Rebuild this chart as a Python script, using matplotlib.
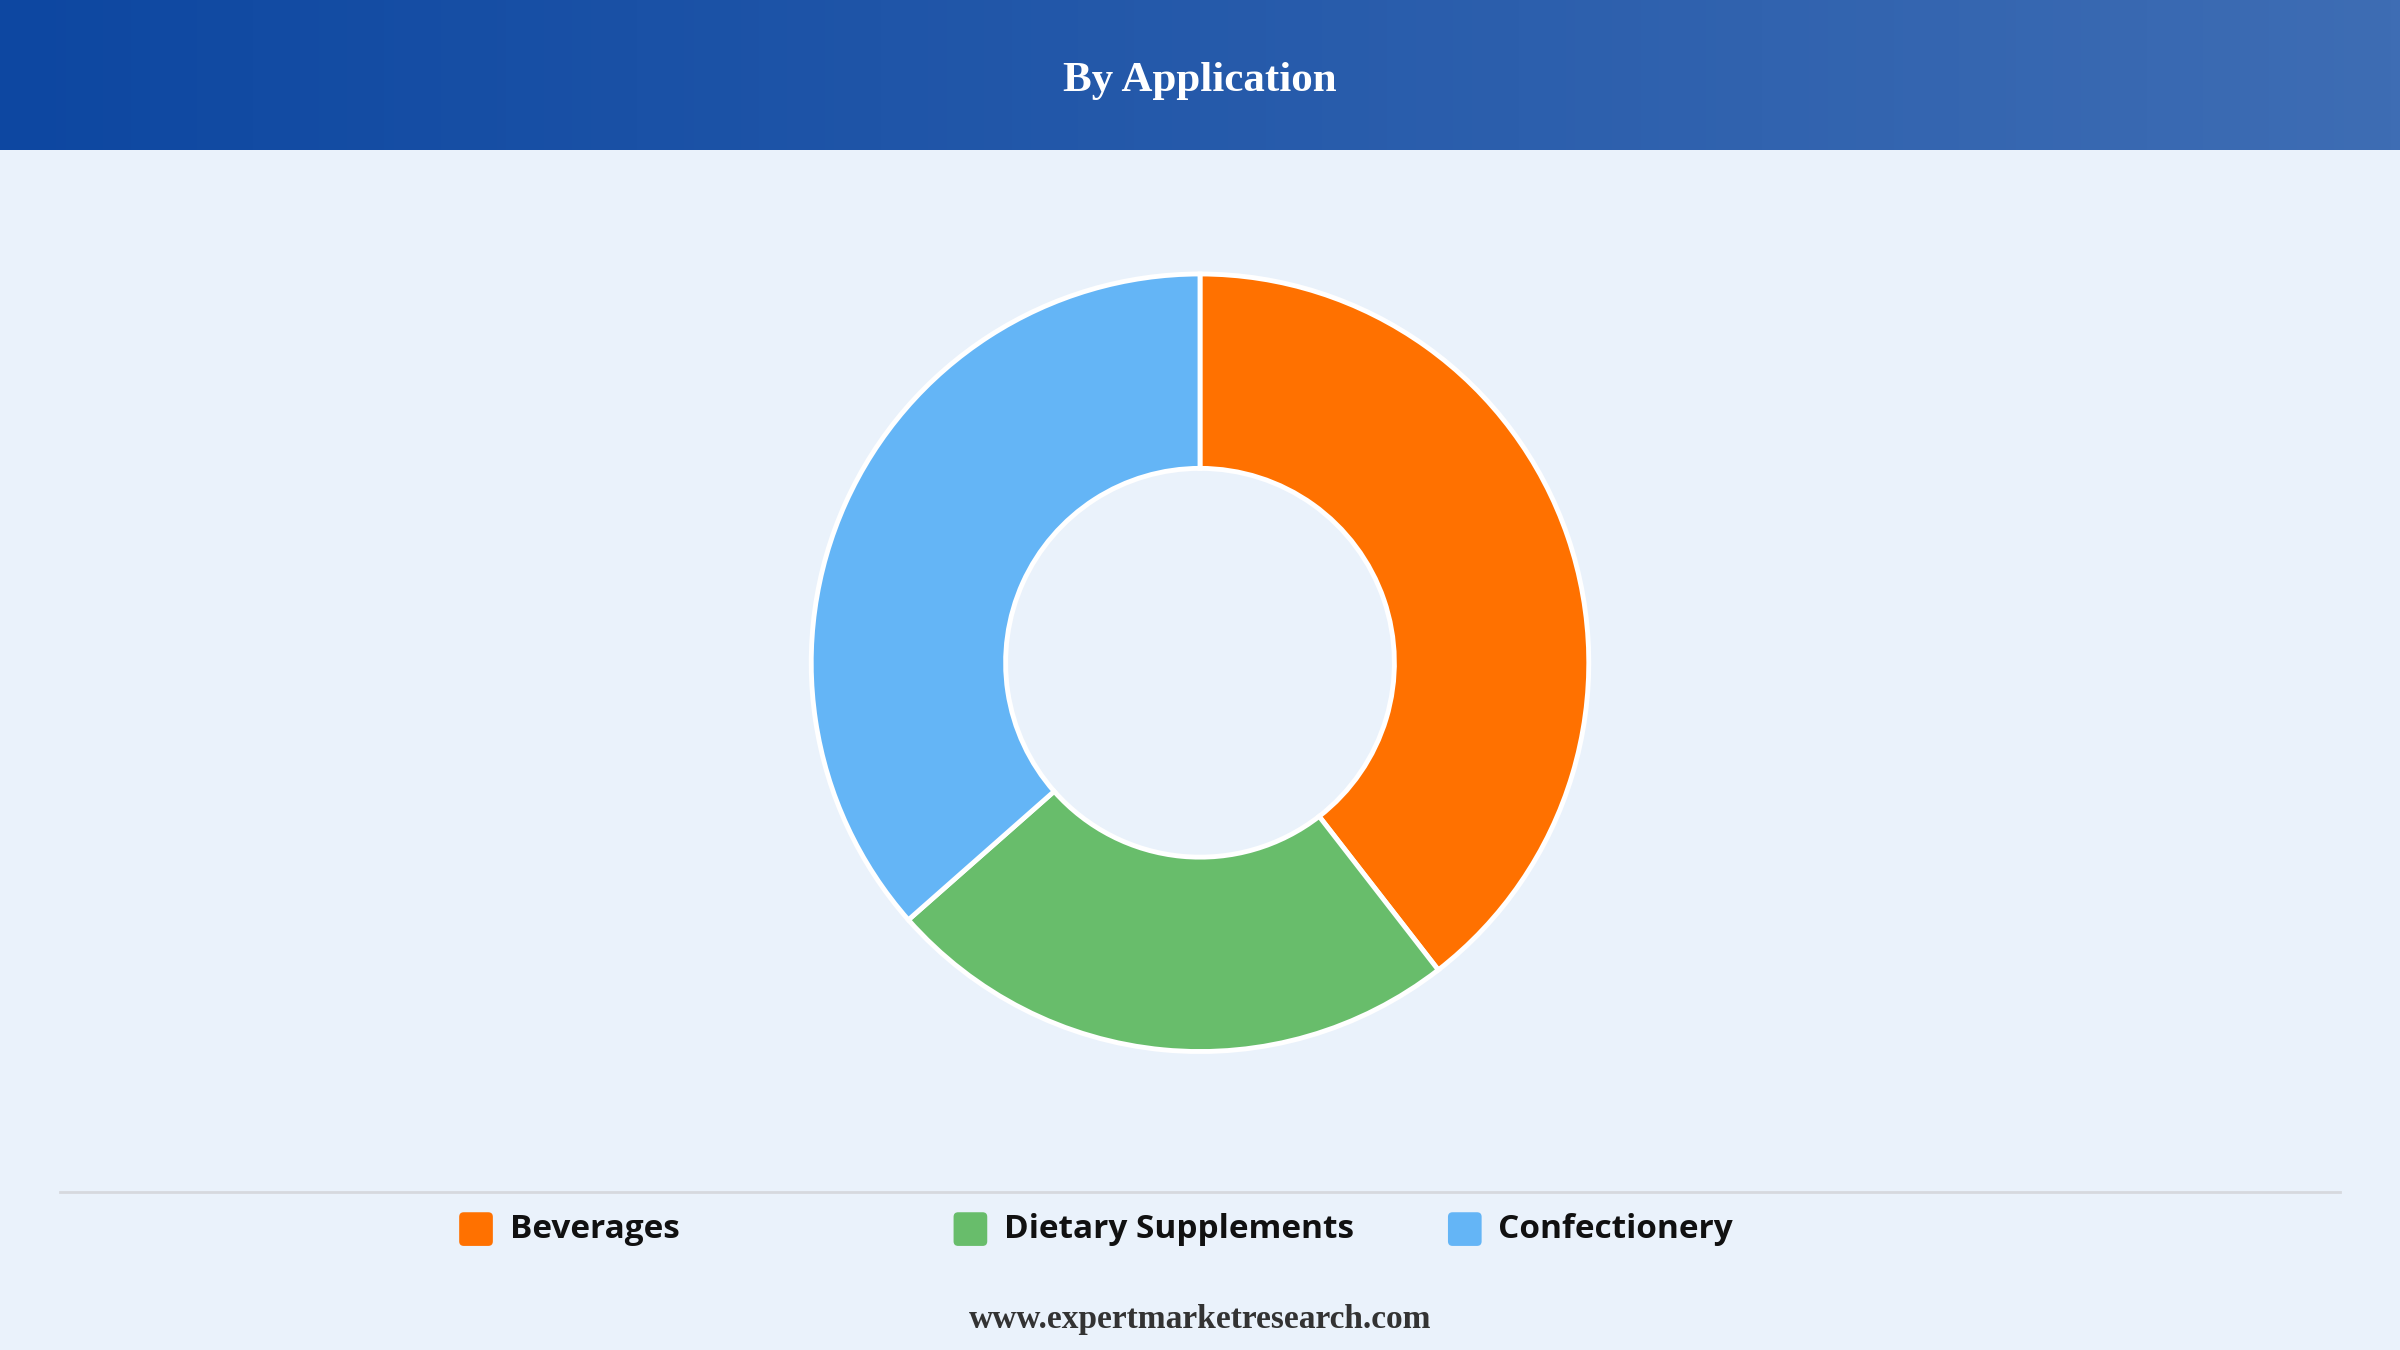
import numpy as np
import matplotlib
matplotlib.use("Agg")
import matplotlib.pyplot as plt
from matplotlib.patches import FancyBboxPatch

# 数据
labels = ["Beverages", "Dietary Supplements", "Confectionery"]
shares = [39.5, 24.0, 36.5]
colors = ["#ff7100", "#68bd6b", "#64b5f6"]

W, H = 1568, 882
fig = plt.figure(figsize=(24, 13.5), dpi=100, facecolor="#eaf2fb")
ax = fig.add_axes([0, 0, 1, 1])
ax.set_xlim(0, W)
ax.set_ylim(0, H)
ax.set_aspect("equal")
ax.axis("off")

# 顶部渐变标题栏
grad = np.linspace(0, 1, 256).reshape(1, -1)
cmap = matplotlib.colors.LinearSegmentedColormap.from_list("hdr", ["#0d47a1", "#3e6db4"])
ax.imshow(grad, cmap=cmap, extent=[0, W, H - 98, H], aspect="auto", zorder=1)
ax.text(W / 2, H - 53, "By Application", ha="center", va="center", color="white",
        fontsize=31, fontweight="bold", family="Liberation Serif", zorder=2)

# 环形图
ax.pie(shares, colors=colors, startangle=90, counterclock=False,
       center=(784, H - 433), radius=254, frame=True,
       wedgeprops=dict(width=127, edgecolor="white", linewidth=3.5))
ax.set_xlim(0, W)
ax.set_ylim(0, H)
ax.axis("off")

# 分隔线
ax.plot([39, 1529], [H - 779, H - 779], color="#d6d9de", lw=2)

# 图例
xs = [311, 634, 957]
for x, lab, c in zip(xs, labels, colors):
    ax.add_patch(FancyBboxPatch((x - 11, H - 803 - 11), 22, 22,
                                boxstyle="round,pad=0,rounding_size=3", fc=c, ec="none"))
    ax.text(x + 22, H - 803, lab, ha="left", va="center", fontsize=24,
            fontweight="bold", family="Open Sans", color="#111111")

ax.text(W / 2, H - 862, "www.expertmarketresearch.com", ha="center", va="center",
        fontsize=24, fontweight="bold", family="Liberation Serif", color="#333333")

fig.savefig("out.png", dpi=100, facecolor=fig.get_facecolor())
